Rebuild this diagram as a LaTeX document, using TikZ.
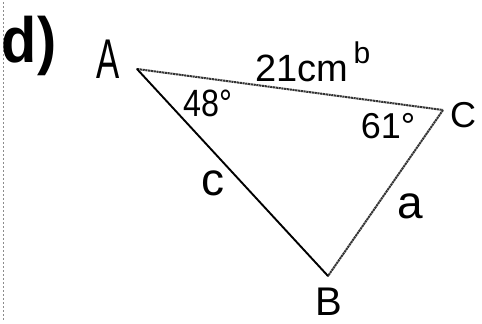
\documentclass[tikz,border=0pt]{standalone}
\usepackage{fontspec}
\setmainfont{Liberation Sans}
\begin{document}
\begin{tikzpicture}[x=1pt,y=-1pt,
  lbl/.style={inner sep=0pt,anchor=center,text=black},
  solidedge/.style={line width=1.9pt,black,line cap=round},
  sketchedge/.style={line width=2pt,black!80,dash pattern=on 2.2pt off 0.6pt,line cap=butt},
  scanline/.style={black!45,line width=0.6pt,dash pattern=on 1.5pt off 2.5pt}]
\useasboundingbox (0,0) rectangle (482,324);
\fill[white] (0,0) rectangle (482,324);
% scan artefact at left edge
\coordinate (s1) at (3,2);
\coordinate (s2) at (3,322);
\draw[scanline] (s1) -- (s2);
% vertices
\coordinate (vA) at (137,69);
\coordinate (vC) at (443,110);
\coordinate (vB) at (328,276);
% edges
\draw[sketchedge] (vA) -- (vC);
\draw[sketchedge] (vC) -- (vB);
\draw[solidedge] (vA) -- (vB);
% labels
\node[lbl,font=\fontsize{64}{64}\selectfont\bfseries,xscale=0.9] (part) at (29,46) {d)};
\node[lbl,font=\fontsize{56}{56}\selectfont,xscale=0.62] (labA) at (108,59) {A};
\node[lbl,font=\fontsize{36}{36}\selectfont] (labC) at (463,115) {C};
\node[lbl,font=\fontsize{40}{40}\selectfont] (labB) at (329,302) {B};
\node[lbl,font=\fontsize{38}{38}\selectfont] (sideb) at (302,68) {21cm};
\node[lbl,font=\fontsize{30}{30}\selectfont] (supb) at (362,53) {b};
\node[lbl,font=\fontsize{38}{38}\selectfont,xscale=0.85] (angA) at (208,103) {48°};
\node[lbl,font=\fontsize{36}{36}\selectfont] (angC) at (388,126) {61°};
\node[lbl,font=\fontsize{46}{46}\selectfont] (sidec) at (213,183) {c};
\node[lbl,font=\fontsize{46}{46}\selectfont] (sidea) at (410,206) {a};
\end{tikzpicture}
\end{document}
